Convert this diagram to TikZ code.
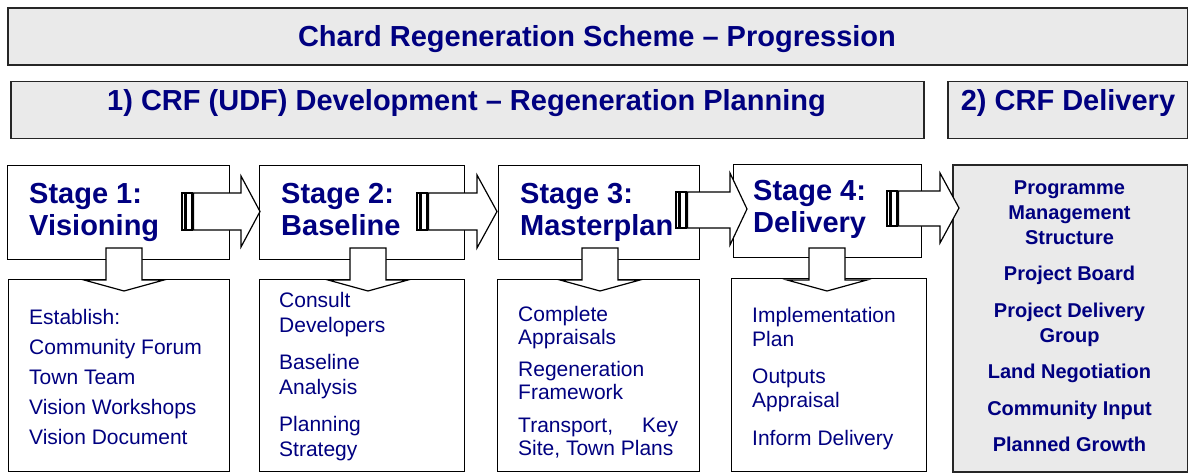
\documentclass[tikz,border=0pt]{standalone}
\usepackage{fontspec}
\setmainfont{Liberation Sans}
\definecolor{navy}{RGB}{0,0,128}
\definecolor{panelgray}{RGB}{234,234,234}
\newcommand\stripedarrow[7]{%
  % #1 stripe start, #2 head start, #3 tip, #4 shaft top, #5 shaft bottom, #6 head top, #7 head bottom
  \draw[arr] (#1,#4) rectangle ({#1+2.5},#5);
  \draw[arr] ({#1+4},#4) rectangle ({#1+10},#5);
  \draw[arr] ({#1+11.5},#4) -- (#2,#4) -- (#2,#6) -- (#3,{(#6+#7)/2}) -- (#2,#7) -- (#2,#5) -- ({#1+11.5},#5) -- cycle;}
\newcommand\blockdown[1]{%
  \draw[arr] ({#1-18},248) -- ({#1+18},248) -- ({#1+18},280) -- ({#1+40},280) -- (#1,291) -- ({#1-40},280) -- ({#1-18},280) -- cycle;}
\begin{document}
\begin{tikzpicture}[x=1pt,y=-1pt,
  box/.style={draw=black, line width=1.3pt, fill=white, inner sep=0, anchor=north west},
  graybox/.style={draw=black!85, line width=1.5pt, fill=panelgray, inner sep=0, anchor=north west},
  arr/.style={draw=black, line width=1.2pt, fill=white, line join=miter},
  big/.style={font=\fontsize{29}{32}\selectfont\bfseries, text=navy, inner sep=0},
  body/.style={text=navy, inner sep=0, align=left, anchor=base west},
  deliv/.style={font=\fontsize{20}{25}\selectfont\bfseries, text=navy, inner sep=0, align=center, anchor=base}
]
\useasboundingbox (0,0) rectangle (1188,472);
% header boxes
\node[graybox, minimum width=1180pt, minimum height=57pt] (banner) at (7,7) {};
\node[graybox, minimum width=913pt, minimum height=57pt] (plan) at (10,80.5) {};
\node[graybox, minimum width=240pt, minimum height=57pt] (deliv) at (947,80.5) {};
% stage boxes
\node[box, minimum width=222pt, minimum height=94pt] (s1) at (7,165) {};
\node[box, minimum width=205pt, minimum height=94pt] (s2) at (259,165) {};
\node[box, minimum width=201pt, minimum height=94pt] (s3) at (498,165) {};
\node[box, minimum width=188pt, minimum height=93pt] (s4) at (733,164) {};
% lower boxes
\node[box, minimum width=221pt, minimum height=192pt] (b1) at (8,279) {};
\node[box, minimum width=205pt, minimum height=192pt] (b2) at (259,279) {};
\node[box, minimum width=202pt, minimum height=192pt] (b3) at (497,279) {};
\node[box, minimum width=195pt, minimum height=193pt] (b4) at (731,278) {};
\node[graybox, minimum width=235pt, minimum height=307pt] (d) at (952,164) {};
% arrows
\stripedarrow{182}{241}{260}{193}{230}{176}{247}
\stripedarrow{417}{477}{497}{193}{230}{175}{248}
\stripedarrow{676}{730}{747}{192}{228}{173}{245}
\stripedarrow{887}{940}{959}{191}{226}{173}{243}
\blockdown{124}
\blockdown{368}
\blockdown{600}
\blockdown{827}
% titles
\node[big, anchor=base] (t0) at (597,46) {Chard Regeneration Scheme – Progression};
\node[big, anchor=base] (t1) at (466.5,110) {1) CRF (UDF) Development – Regeneration Planning};
\node[big, anchor=base] (t2) at (1068,110) {2) CRF Delivery};
\node[big, align=left, anchor=base west] (st1) at (29,235) {Stage 1:\\Visioning};
\node[big, align=left, anchor=base west] (st2) at (281,235) {Stage 2:\\Baseline};
\node[big, align=left, anchor=base west] (st3) at (520,235) {Stage 3:\\Masterplan};
\node[big, align=left, anchor=base west] (st4) at (753,232) {Stage 4:\\Delivery};
% body texts (anchor base = baseline of last line)
\node[body, font=\fontsize{21}{30}\selectfont] (x1) at (29,444) {Establish:\\Community Forum\\Town Team\\Vision Workshops\\Vision Document};
\node[body, font=\fontsize{21}{25}\selectfont] (x2) at (279,456.5) {Consult\\Developers\\[12pt]Baseline\\Analysis\\[12pt]Planning\\Strategy};
\node[body, font=\fontsize{21}{23}\selectfont] (x3) at (518,455) {Complete\\Appraisals\\[9pt]Regeneration\\Framework\\[10pt]\makebox[160pt][l]{Transport,\hfill Key}\\Site, Town Plans};
\node[body, font=\fontsize{21}{24}\selectfont] (x4) at (752,445) {Implementation\\Plan\\[13.5pt]Outputs\\Appraisal\\[13.5pt]Inform Delivery};
\node[deliv] (x5) at (1069.5,451.5) {Programme\\Management\\Structure\\[11.5pt]Project Board\\[11.5pt]Project Delivery\\Group\\[11.5pt]Land Negotiation\\[11.5pt]Community Input\\[11.5pt]Planned Growth};
\end{tikzpicture}
\end{document}
